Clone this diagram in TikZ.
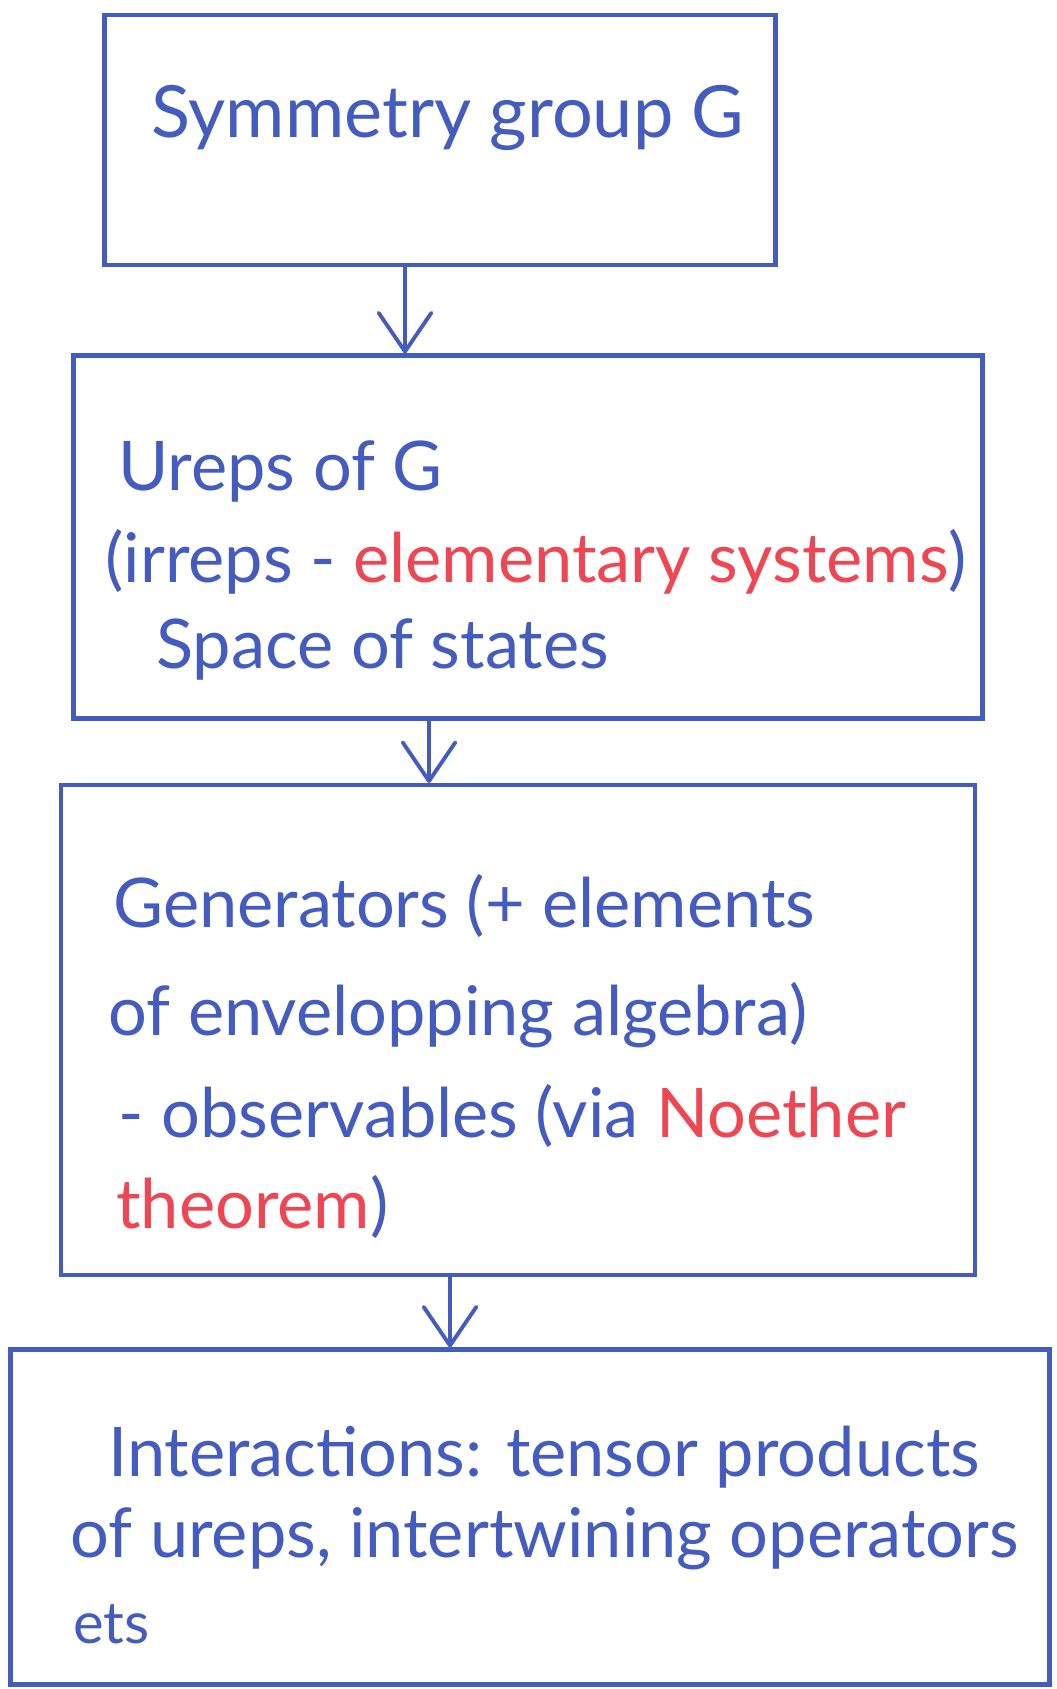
\documentclass[tikz,border=0pt]{standalone}
\usepackage{fontspec}
\setmainfont{Lato}
\usetikzlibrary{arrows.meta}
\definecolor{inkblue}{RGB}{68,92,192}
\definecolor{inkred}{RGB}{238,70,82}

\begin{document}
\begin{tikzpicture}[x=0.02cm,y=-0.02cm,
    box/.style={draw=inkblue, line width=2.4pt, rectangle, inner sep=0pt},
    arr/.style={draw=inkblue, line width=2.2pt, line cap=round, -{Straight Barb[length=22pt,width=30pt,round]}},
    txt/.style={anchor=base west, text=inkblue, inner sep=0pt, font=\fontsize{39}{42}\selectfont}]

    \useasboundingbox (0,0) rectangle (1056,1689);

    % the four boxes
    \node[box, minimum width=13.42cm, minimum height=5cm] (sym) at (440,140) {};
    \node[box, minimum width=18.18cm, minimum height=7.26cm] (ureps) at (528,537) {};
    \node[box, minimum width=18.28cm, minimum height=9.8cm] (gen) at (518,1030) {};
    \node[box, minimum width=20.78cm, minimum height=6.7cm] (inter) at (530,1517) {};

    % arrows between them
    \draw[arr] (sym.south -| 405,0) -- (ureps.north -| 405,0);
    \draw[arr] (ureps.south -| 429,0) -- (gen.north -| 429,0);
    \draw[arr] (gen.south -| 450,0) -- (inter.north -| 450,0);

    % texts
    \node[txt, font=\fontsize{41}{44}\selectfont] (t1) at (151,138) {Symmetry group G};

    \node[txt] (t2a) at (118,490) {Ureps of G};
    \node[txt] (t2b) at (105,582) {(irreps - \textcolor{inkred}{elementary systems})};
    \node[txt] (t2c) at (156,668) {Space of states};

    \node[txt] (t3a) at (113,927) {Generators (+ elements};
    \node[txt] (t3b) at (108,1035) {of envelopping algebra)};
    \node[txt] (t3c) at (118,1137) {- observables (via \textcolor{inkred}{Noether}};
    \node[txt] (t3d) at (116,1228) {\textcolor{inkred}{theorem})};

    \node[txt] (t4a) at (108,1476) {Interactions: tensor products};
    \node[txt] (t4b) at (70,1557) {of ureps, intertwining operators};
    \node[txt, font=\fontsize{33}{36}\selectfont] (t4c) at (73,1643) {ets};

\end{tikzpicture}
\end{document}
